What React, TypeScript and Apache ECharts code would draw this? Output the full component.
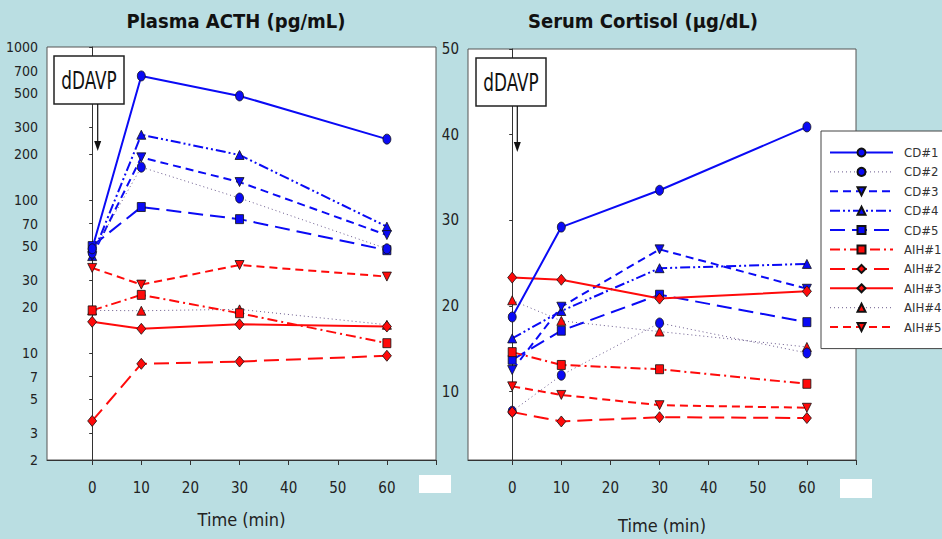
import React, { useEffect, useRef } from "react";
import * as echarts from "echarts";

const times = [0, 10, 30, 60];
const seriesNames = ["CD#1", "CD#2", "CD#3", "CD#4", "CD#5", "AIH#1", "AIH#2", "AIH#3", "AIH#4", "AIH#5"];

// Plasma ACTH (pg/mL)
const acthCD1 = [48, 647, 479, 250];
const acthCD2 = [45, 164, 103, 48];
const acthCD3 = [43, 190, 131, 59];
const acthCD4 = [43, 267, 197, 67];
const acthCD5 = [50, 90, 75, 47];
const acthAIH1 = [19, 24, 18.2, 11.6];
const acthAIH2 = [3.6, 8.5, 8.8, 9.6];
const acthAIH3 = [16, 14.4, 15.4, 14.9];
const acthAIH4 = [19, 18.9, 19.3, 15.3];
const acthAIH5 = [36, 28, 37.6, 31.6];

// Serum Cortisol (µg/dL)
const cortCD1 = [18.7, 29.2, 33.5, 40.9];
const cortCD2 = [7.7, 11.9, 18.0, 14.5];
const cortCD3 = [12.5, 19.9, 26.6, 22.0];
const cortCD4 = [16.2, 19.4, 24.4, 24.9];
const cortCD5 = [13.7, 17.1, 21.3, 18.1];
const cortAIH1 = [14.6, 13.1, 12.6, 10.9];
const cortAIH2 = [7.6, 6.5, 7.0, 6.9];
const cortAIH3 = [23.3, 23.05, 20.85, 21.7];
const cortAIH4 = [20.65, 18.25, 17.0, 15.2];
const cortAIH5 = [10.6, 9.6, 8.4, 8.1];

const acthSeries = [acthCD1, acthCD2, acthCD3, acthCD4, acthCD5, acthAIH1, acthAIH2, acthAIH3, acthAIH4, acthAIH5];
const cortSeries = [cortCD1, cortCD2, cortCD3, cortCD4, cortCD5, cortAIH1, cortAIH2, cortAIH3, cortAIH4, cortAIH5];

const acthTickLabels = [2, 3, 5, 7, 10, 20, 30, 50, 70, 100, 200, 300, 500, 700, 1000];
const cortTickLabels = [10, 20, 30, 40, 50];
const timeTickLabels = [0, 10, 20, 30, 40, 50, 60];
const timeTicks = [0, 10, 20, 30, 40, 50, 60, 70];

const BLUE = "#0a0af5";
const RED = "#ff0a0a";
const DOT = "#6a5a8c";
const FONT = "'Liberation Sans Narrow', 'Arial Narrow', 'DejaVu Sans Condensed', sans-serif";

const styles: any[] = [
  { color: BLUE, line: BLUE, type: "solid", width: 2, symbol: "circle", size: [8, 10], rot: 0 },
  { color: BLUE, line: DOT, type: [1, 3], width: 1, symbol: "circle", size: [8, 10], rot: 0 },
  { color: BLUE, line: BLUE, type: [8, 5], width: 2, symbol: "triangle", size: [9, 9], rot: 180 },
  { color: BLUE, line: BLUE, type: [10, 3, 2, 3, 2, 3], width: 2, symbol: "triangle", size: [9, 9], rot: 0 },
  { color: BLUE, line: BLUE, type: [15, 7], width: 2, symbol: "rect", size: [8, 9], rot: 0 },
  { color: RED, line: RED, type: [10, 4, 2, 4], width: 2, symbol: "rect", size: [8, 9], rot: 0 },
  { color: RED, line: RED, type: [15, 7], width: 2, symbol: "diamond", size: [9, 11], rot: 0 },
  { color: RED, line: RED, type: "solid", width: 2, symbol: "diamond", size: [9, 11], rot: 0 },
  { color: RED, line: DOT, type: [1, 3], width: 1, symbol: "triangle", size: [9, 9], rot: 0 },
  { color: RED, line: RED, type: [8, 5], width: 2, symbol: "triangle", size: [9, 9], rot: 180 },
];

function makeSeries(values: number[], i: number, axisIndex: number, transform: (v: number) => number) {
  const s = styles[i];
  return {
    type: "line",
    name: seriesNames[i],
    xAxisIndex: axisIndex,
    yAxisIndex: axisIndex,
    data: times.map((t, k) => [t, transform(values[k])]),
    symbol: s.symbol,
    symbolSize: s.size,
    symbolRotate: s.rot,
    itemStyle: { color: s.color, borderColor: "#111", borderWidth: 0.8 },
    lineStyle: { color: s.line, type: s.type, width: s.width },
    z: 10 - (i % 5),
  };
}

export default function App() {
  const ref = useRef<HTMLDivElement>(null);
  useEffect(() => {
    document.body.style.margin = "0";
    const chart = echarts.init(ref.current!, undefined, { renderer: "svg" });
    const axisLabelStyle = { color: "#222", fontSize: 15, fontFamily: FONT };
    const mkX = (gridIndex: number, min: number, nameGap: number) => ({
      type: "value",
      gridIndex,
      min,
      max: 70,
      name: "Time (min)",
      nameLocation: "middle",
      nameGap,
      nameTextStyle: { color: "#222", fontSize: 18, fontFamily: FONT },
      axisLine: { show: true, onZero: false, lineStyle: { color: "#333", width: 1 } },
      axisTick: { show: true, customValues: timeTicks, length: 5, lineStyle: { color: "#333" } },
      axisLabel: { ...axisLabelStyle, customValues: timeTickLabels, margin: 20 },
      splitLine: { show: false },
    });
    const acthLogTicks = acthTickLabels.map((v) => Math.log10(v));
    const option: any = {
      animation: false,
      backgroundColor: "#badee2",
      grid: [
        { left: 47, top: 47, width: 389, height: 413, show: true, backgroundColor: "#fff", borderColor: "#555", borderWidth: 1 },
        { left: 468, top: 49, width: 388, height: 413, show: true, backgroundColor: "#fff", borderColor: "#555", borderWidth: 1 },
      ],
      xAxis: [mkX(0, -9.2, 50), mkX(1, -9, 56)],
      yAxis: [
        {
          type: "value",
          gridIndex: 0,
          min: Math.log10(2),
          max: 3,
          axisLine: { show: true, lineStyle: { color: "#333" } },
          axisTick: { show: true, customValues: acthLogTicks, length: 3, lineStyle: { color: "#333" } },
          axisLabel: {
            ...axisLabelStyle,
            fontSize: 14,
            customValues: acthLogTicks,
            margin: 9,
            formatter: (v: number) => String(Math.round(Math.pow(10, v))),
          },
          splitLine: { show: false },
        },
        {
          type: "value",
          gridIndex: 1,
          min: 2,
          max: 50,
          axisLine: { show: true, lineStyle: { color: "#333" } },
          axisTick: { show: true, customValues: cortTickLabels, length: 3, lineStyle: { color: "#333" } },
          axisLabel: { ...axisLabelStyle, fontSize: 15, customValues: cortTickLabels, margin: 9 },
          splitLine: { show: false },
        },
      ],
      legend: {
        orient: "vertical",
        left: 821,
        top: 131,
        data: seriesNames,
        padding: [15, 20, 15, 8],
        itemWidth: 63,
        itemHeight: 10,
        itemGap: 6.4,
        backgroundColor: "#fff",
        borderColor: "#444",
        borderWidth: 1,
        selectedMode: false,
        lineStyle: { width: "inherit" },
        textStyle: { color: "#333", fontSize: 13, fontFamily: FONT, padding: [0, 0, 0, 6] },
      },
      series: [
        ...acthSeries.map((vals, i) => makeSeries(vals, i, 0, (v) => Math.log10(v))),
        ...cortSeries.map((vals, i) => makeSeries(vals, i, 1, (v) => v)),
      ],
      graphic: [
        { type: "text", x: 236, y: 21, z: 100, style: { text: "Plasma ACTH (pg/mL)", fill: "#111", font: `bold 20px ${FONT}`, textAlign: "center", textVerticalAlign: "middle" } },
        { type: "text", x: 643, y: 21, z: 100, style: { text: "Serum Cortisol (µg/dL)", fill: "#111", font: `bold 20px ${FONT}`, textAlign: "center", textVerticalAlign: "middle" } },
        { type: "rect", z: 100, shape: { x: 54, y: 56, width: 70, height: 48 }, style: { fill: "#fff", stroke: "#222", lineWidth: 1.5 } },
        { type: "text", z: 101, x: 89, y: 80, scaleX: 0.75, style: { text: "dDAVP", fill: "#111", font: `25px ${FONT}`, textAlign: "center", textVerticalAlign: "middle" } },
        { type: "line", z: 100, shape: { x1: 97.7, y1: 104, x2: 97.7, y2: 143 }, style: { stroke: "#111", lineWidth: 1.2 } },
        { type: "polygon", z: 100, shape: { points: [[94.2, 141], [101.2, 141], [97.7, 151]] }, style: { fill: "#111" } },
        { type: "rect", z: 100, shape: { x: 476, y: 58, width: 70, height: 48 }, style: { fill: "#fff", stroke: "#222", lineWidth: 1.5 } },
        { type: "text", z: 101, x: 511, y: 82, scaleX: 0.75, style: { text: "dDAVP", fill: "#111", font: `25px ${FONT}`, textAlign: "center", textVerticalAlign: "middle" } },
        { type: "line", z: 100, shape: { x1: 517.3, y1: 106, x2: 517.3, y2: 144 }, style: { stroke: "#111", lineWidth: 1.2 } },
        { type: "polygon", z: 100, shape: { points: [[513.8, 142], [520.8, 142], [517.3, 152]] }, style: { fill: "#111" } },
        { type: "rect", z: 100, shape: { x: 419, y: 475, width: 32, height: 18 }, style: { fill: "#fff" } },
        { type: "rect", z: 100, shape: { x: 840, y: 479, width: 32, height: 19 }, style: { fill: "#fff" } },
      ],
    };
    chart.setOption(option);
    return () => chart.dispose();
  }, []);
  return <div ref={ref} style={{ width: 942, height: 539 }} />;
}
